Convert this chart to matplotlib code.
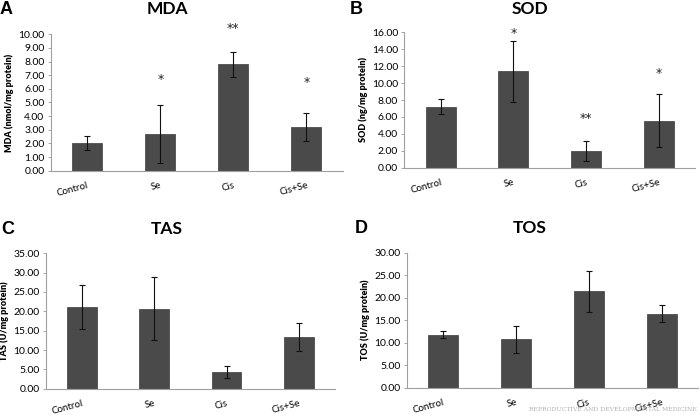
import matplotlib
matplotlib.use("Agg")
import matplotlib.pyplot as plt

groups = ["Control", "Se", "Cis", "Cis+Se"]

mda = [2.05, 2.68, 7.80, 3.20]
mda_err = [0.53, 2.15, 0.90, 1.05]
mda_stars = ["", "*", "**", "*"]
mda_star_y = [0, 7.0, 10.7, 6.8]

sod = [7.20, 11.40, 2.00, 5.55]
sod_err = [0.90, 3.60, 1.20, 3.10]
sod_stars = ["", "*", "**", "*"]
sod_star_y = [0, 16.3, 6.3, 11.6]

tas = [21.1, 20.7, 4.3, 13.4]
tas_err = [5.7, 8.2, 1.45, 3.6]

tos = [11.8, 10.8, 21.4, 16.4]
tos_err = [0.7, 3.0, 4.6, 1.9]

W, H = 700, 415
plt.rcParams['font.family'] = ['Lato', 'DejaVu Sans']
fig = plt.figure(figsize=(7, 4.15), dpi=100)


def panel(box, vals, errs, ymax, step, ylabel, title, letter, title_xy, letter_xy,
          stars=None, star_y=None):
    x0, x1, ytop, ybot = box
    ax = fig.add_axes([x0 / W, (H - ybot) / H, (x1 - x0) / W, (ybot - ytop) / H])
    ax.bar(range(4), vals, width=0.41, color='#4a4a4a', edgecolor='#3c3c3c', lw=0.5,
           yerr=errs, error_kw=dict(ecolor='#111111', elinewidth=0.8, capsize=2, capthick=0.8))
    ax.set_xlim(-0.5, 3.5)
    ax.set_ylim(0, ymax)
    ticks = [i * step for i in range(int(round(ymax / step)) + 1)]
    ax.set_yticks(ticks)
    ax.set_yticklabels(["%.2f" % t for t in ticks], fontsize=7.5)
    ax.set_xticks(range(4))
    ax.set_xticklabels(groups, fontsize=7, rotation=15, ha='right', rotation_mode='anchor')
    ax.tick_params(axis='x', length=0, pad=7)
    ax.tick_params(axis='y', length=2.5, width=0.6, color='#999999', pad=2)
    for s in ['top', 'right']:
        ax.spines[s].set_visible(False)
    for s in ['left', 'bottom']:
        ax.spines[s].set_color('#a0a0a0')
        ax.spines[s].set_linewidth(0.8)
    ax.set_ylabel(ylabel, fontsize=6.5, fontweight='heavy', labelpad=3)
    if stars:
        for i, (s, y) in enumerate(zip(stars, star_y)):
            if s:
                ax.text(i, y - ymax * 0.03, s, ha='center', va='center', fontsize=9,
                        color='#222222', family='DejaVu Sans', clip_on=False)
    fig.text(title_xy[0] / W, 1 - title_xy[1] / H, title, fontsize=12.5, fontweight='bold',
             ha='center', va='center')
    fig.text(letter_xy[0] / W, 1 - letter_xy[1] / H, letter, fontsize=13, fontweight='bold',
             ha='left', va='center', family='Liberation Sans')
    return ax


panel((50.7, 343, 34.3, 170.7), mda, mda_err, 10, 1, "MDA (nmol/mg protein)", "MDA", "A",
      (167, 9), (0, 9), mda_stars, mda_star_y)
panel((404.3, 695, 32.3, 167.7), sod, sod_err, 16, 2, "SOD (ng/mg protein)", "SOD", "B",
      (530, 9), (350, 9), sod_stars, sod_star_y)
panel((45.7, 335, 253.3, 388.7), tas, tas_err, 35, 5, "TAS (U/mg protein)", "TAS", "C",
      (167, 229), (1, 229))
panel((406.7, 698, 252.7, 387.7), tos, tos_err, 30, 5, "TOS (U/mg protein)", "TOS", "D",
      (530, 228), (355, 228))

fig.text(697 / W, 1 - 409 / H, "REPRODUCTIVE AND DEVELOPMENTAL MEDICINE", fontsize=4.4,
         color='#b0b0b0', family='DejaVu Serif', ha='right', va='center')

fig.savefig("out.png", dpi=100)
